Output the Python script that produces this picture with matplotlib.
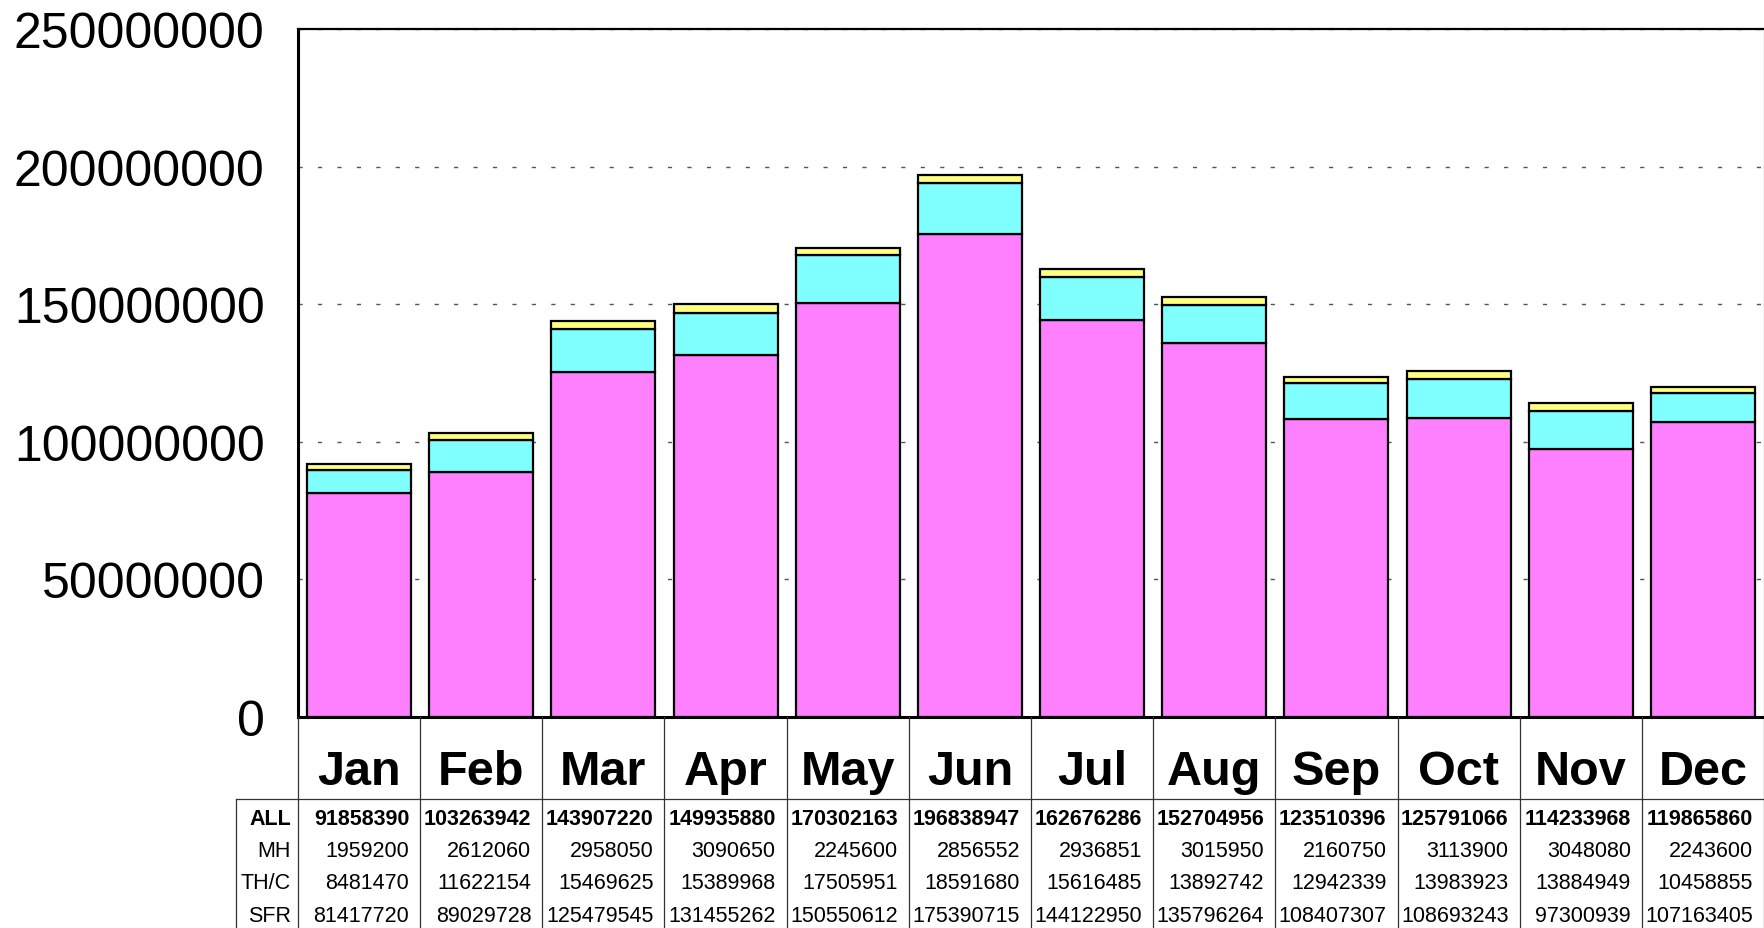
#!/usr/bin/env python3
# -*- coding: utf-8 -*-

# Importation des librairies
import matplotlib
matplotlib.use("Agg")
import matplotlib.pyplot as plt
import numpy as np
from matplotlib.lines import Line2D

plt.rcParams['font.family'] = ['Liberation Sans', 'DejaVu Sans']

# Donnees
months = ['Jan', 'Feb', 'Mar', 'Apr', 'May', 'Jun',
          'Jul', 'Aug', 'Sep', 'Oct', 'Nov', 'Dec']
all_tot = [91858390, 103263942, 143907220, 149935880, 170302163, 196838947,
           162676286, 152704956, 123510396, 125791066, 114233968, 119865860]
mh = [1959200, 2612060, 2958050, 3090650, 2245600, 2856552,
      2936851, 3015950, 2160750, 3113900, 3048080, 2243600]
thc = [8481470, 11622154, 15469625, 15389968, 17505951, 18591680,
       15616485, 13892742, 12942339, 13983923, 13884949, 10458855]
sfr = [81417720, 89029728, 125479545, 131455262, 150550612, 175390715,
       144122950, 135796264, 108407307, 108693243, 97300939, 107163405]
row_labels = ['ALL', 'MH', 'TH/C', 'SFR']
yticks = [0, 50000000, 100000000, 150000000, 200000000, 250000000]

# Figure
W, H = 1765, 929
fig = plt.figure(figsize=(W / 100, H / 100), dpi=100)
ax_l, ax_r, ax_t, ax_b = 298, 1764, 30, 718
ax = fig.add_axes([ax_l / W, 1 - ax_b / H, (ax_r - ax_l) / W, (ax_b - ax_t) / H])

x = np.arange(len(months))
sfr_a, thc_a, mh_a = np.array(sfr), np.array(thc), np.array(mh)
kw = dict(width=0.85, edgecolor='black', linewidth=1.6, zorder=3)
ax.bar(x, sfr_a, color='#FF80FF', **kw)
ax.bar(x, thc_a, bottom=sfr_a, color='#80FFFF', **kw)
ax.bar(x, mh_a, bottom=sfr_a + thc_a, color='#FFFF80', **kw)

ax.set_xlim(-0.5, len(months) - 0.5)
ax.set_ylim(0, 250000000)
ax.set_yticks(yticks)
ax.set_yticklabels([str(v) for v in yticks], fontsize=36)
ax.tick_params(axis='y', length=0, pad=24)
ax.set_xticks([])
ax.yaxis.grid(True, color='#555555', linewidth=1.0, dashes=(3, 11), zorder=0)
ax.set_axisbelow(True)
for side, lw in [('left', 2.2), ('bottom', 2.2), ('top', 1.6), ('right', 0.8)]:
    ax.spines[side].set_linewidth(lw)
    ax.spines[side].set_color('black')

# Table de donnees sous le graphique
def fy(py):
    return 1 - py / H

def fx(px):
    return px / W

colw = (ax_r - ax_l) / len(months)
tab_top = 800
row_y = [820, 852, 884, 917]
lc = '#333333'
# lignes verticales
for i in range(len(months) + 1):
    xx = ax_l + i * colw
    fig.add_artist(Line2D([fx(xx), fx(xx)], [fy(ax_b), 0], color=lc, linewidth=0.9))
fig.add_artist(Line2D([fx(236), fx(236)], [fy(tab_top), 0], color=lc, linewidth=0.9))
fig.add_artist(Line2D([fx(236), 1], [fy(tab_top), fy(tab_top)], color=lc, linewidth=0.9))

for i, m in enumerate(months):
    cx = ax_l + (i + 0.5) * colw
    fig.text(fx(cx), fy(773), m, ha='center', va='center',
             fontsize=35, fontweight='bold')
    vals = [all_tot[i], mh[i], thc[i], sfr[i]]
    for j, v in enumerate(vals):
        fig.text(fx(ax_l + (i + 1) * colw - 11), fy(row_y[j]), str(v),
                 ha='right', va='center', fontsize=15.5,
                 fontweight='bold' if j == 0 else 'normal')

for j, lab in enumerate(row_labels):
    fig.text(fx(291), fy(row_y[j]), lab, ha='right', va='center',
             fontsize=15.5, fontweight='bold' if j == 0 else 'normal')

fig.savefig('out.png', dpi=100)
